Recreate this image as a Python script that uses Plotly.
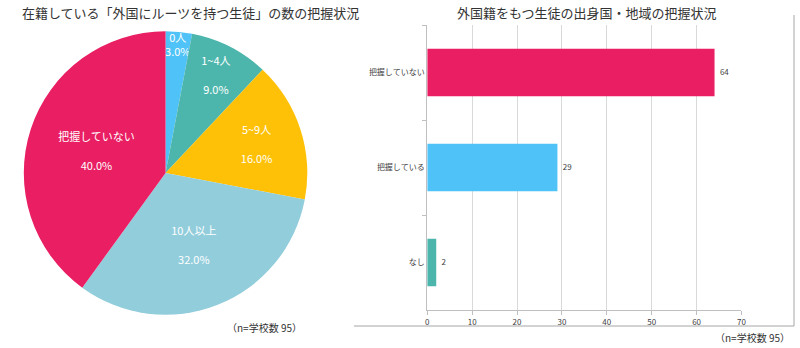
import plotly.graph_objects as go

pie_labels = ["0人", "1~4人", "5~9人", "10人以上", "把握していない"]
pie_values = [3.0, 9.0, 16.0, 32.0, 40.0]
pie_colors = ["#4FC3F7", "#4DB6AC", "#FFC107", "#92CDDC", "#E91E63"]

bar_cats = ["把握していない", "把握している", "なし"]
bar_vals = [64, 29, 2]
bar_colors = ["#E91E63", "#4FC3F7", "#4DB6AC"]
x_ticks = [0, 10, 20, 30, 40, 50, 60, 70]

FONT = "Noto Sans CJK JP"
W, H = 800, 348

fig = go.Figure()

cx, cy, r = 165, 173, 143
templates = ["%{label}<br>%{percent:.1%}"] + ["%{label}<br><br>%{percent:.1%}"] * 4
fig.add_trace(go.Pie(
    labels=pie_labels, values=pie_values, sort=False, direction="clockwise",
    rotation=0, marker=dict(colors=pie_colors, line=dict(width=0)),
    texttemplate=templates, textinfo="text",
    textposition="inside", insidetextorientation="horizontal",
    textfont=dict(family=FONT, size=11, color="white"),
    showlegend=False, hoverinfo="label+percent",
    domain=dict(x=[(cx - r) / W, (cx + r) / W], y=[(H - cy - r) / H, (H - cy + r) / H]),
))

fig.add_trace(go.Bar(
    x=bar_vals, y=bar_cats, orientation="h", marker=dict(color=bar_colors, line=dict(width=0)),
    width=0.5, xaxis="x", yaxis="y", showlegend=False, hoverinfo="x+y",
))

fig.add_trace(go.Scatter(
    x=bar_vals, y=bar_cats, mode="text", text=["   " + str(v) for v in bar_vals],
    textposition="middle right", textfont=dict(family=FONT, size=8, color="#404040"),
    xaxis="x", yaxis="y", showlegend=False, hoverinfo="skip", cliponaxis=False,
))

fig.update_layout(
    width=W, height=H, margin=dict(l=0, r=0, t=0, b=0),
    paper_bgcolor="white", plot_bgcolor="white",
    font=dict(family=FONT, color="#404040"),
    uniformtext=dict(minsize=11, mode="show"),
    xaxis=dict(domain=[429 / W, 746 / W], range=[0, 70], tickvals=x_ticks,
               showgrid=True, gridcolor="#d9d9d9", gridwidth=1, zeroline=False,
               showline=True, linecolor="#bfbfbf", ticks="outside", ticklen=4, tickcolor="#bfbfbf",
               tickfont=dict(size=8, color="#404040", family=FONT), fixedrange=True),
    yaxis=dict(domain=[1 - 310 / H, 1 - 25 / H], autorange="reversed", categoryorder="array",
               categoryarray=bar_cats, showline=True, linecolor="#bfbfbf", showgrid=False,
               ticks="outside", ticklen=4, tickcolor="#bfbfbf", tickson="boundaries",
               tickfont=dict(size=8, color="#404040", family=FONT), fixedrange=True),
    bargap=0.5,
    annotations=[
        dict(text="在籍している「外国にルーツを持つ生徒」の数の把握状況", x=18 / W, y=1 - 13 / H,
             xref="paper", yref="paper", xanchor="left", yanchor="middle", showarrow=False,
             font=dict(size=13, color="#333333", family=FONT)),
        dict(text="外国籍をもつ生徒の出身国・地域の把握状況", x=590 / W, y=1 - 13 / H,
             xref="paper", yref="paper", xanchor="center", yanchor="middle", showarrow=False,
             font=dict(size=13, color="#333333", family=FONT)),
        dict(text="（n=学校数 95）", x=305 / W, y=1 - 327 / H, xref="paper", yref="paper",
             xanchor="right", yanchor="middle", showarrow=False,
             font=dict(size=10, color="#333333", family=FONT)),
        dict(text="（n=学校数 95）", x=797 / W, y=1 - 337 / H, xref="paper", yref="paper",
             xanchor="right", yanchor="middle", showarrow=False,
             font=dict(size=10, color="#333333", family=FONT)),
    ],
    shapes=[
        dict(type="line", xref="paper", yref="paper", x0=355 / W, x1=799 / W,
             y0=1 - 326 / H, y1=1 - 326 / H, line=dict(color="#a6a6a6", width=1)),
        dict(type="line", xref="paper", yref="paper", x0=799 / W, x1=799 / W,
             y0=1 - 15 / H, y1=1 - 326 / H, line=dict(color="#a6a6a6", width=1)),
    ],
)

fig.write_html("out.html")
